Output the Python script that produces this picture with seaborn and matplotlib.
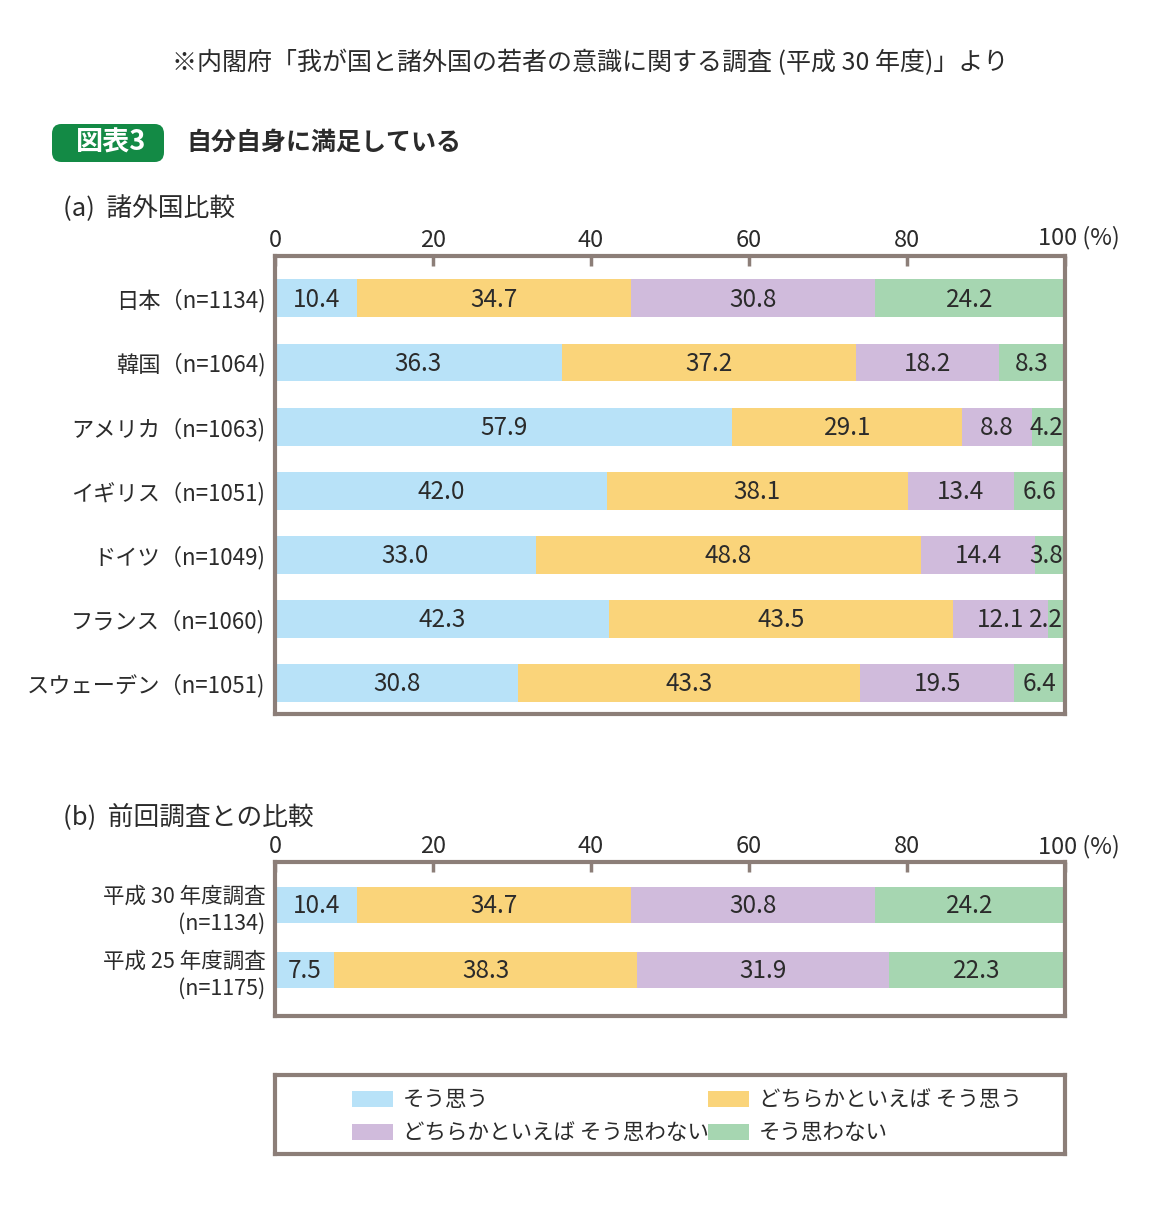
import matplotlib
matplotlib.use("Agg")
import matplotlib.pyplot as plt
from matplotlib.patches import FancyBboxPatch, Patch
import seaborn as sns
import pandas as pd
import numpy as np

# ---- data ----
series_names = ["そう思う", "どちらかといえば そう思う", "どちらかといえば そう思わない", "そう思わない"]
colors = ["#b8e2f8", "#fad47a", "#d0bbdc", "#a6d6b1"]

countries = ["日本（n=1134)", "韓国（n=1064)", "アメリカ（n=1063)", "イギリス（n=1051)",
             "ドイツ（n=1049)", "フランス（n=1060)", "スウェーデン（n=1051)"]
a_agree = [10.4, 36.3, 57.9, 42.0, 33.0, 42.3, 30.8]
a_some_agree = [34.7, 37.2, 29.1, 38.1, 48.8, 43.5, 43.3]
a_some_disagree = [30.8, 18.2, 8.8, 13.4, 14.4, 12.1, 19.5]
a_disagree = [24.2, 8.3, 4.2, 6.6, 3.8, 2.2, 6.4]

surveys = ["平成 30 年度調査\n(n=1134)", "平成 25 年度調査\n(n=1175)"]
b_agree = [10.4, 7.5]
b_some_agree = [34.7, 38.3]
b_some_disagree = [30.8, 31.9]
b_disagree = [24.2, 22.3]

ticks = [0, 20, 40, 60, 80, 100]
tick_labels = ["0", "20", "40", "60", "80", "100"]

sns.set_theme(style="white")
plt.rcParams['font.family'] = ['Noto Sans CJK JP', 'DejaVu Sans']
TXT = "#2b2b2b"
FRAME = "#8c7e78"

W, H = 1159, 1214
fig = plt.figure(figsize=(W / 100, H / 100), dpi=100)


def ax_rect(left, right, top, bottom):
    return [left / W, 1 - bottom / H, (right - left) / W, (bottom - top) / H]


def draw_panel(ax, cats, cols, ylim, label_fs, bar_w):
    df = pd.DataFrame({"cat": cats})
    vals = np.array(cols)
    cum = np.cumsum(vals, axis=0)
    for i in range(len(cols) - 1, -1, -1):
        df["v"] = np.minimum(cum[i], 100)
        sns.barplot(data=df, x="v", y="cat", orient="h", color=colors[i],
                    saturation=1, width=bar_w, linewidth=0, ax=ax, errorbar=None)
    for i in range(len(cols)):
        starts = cum[i] - vals[i]
        for j, v in enumerate(vals[i]):
            if v < 5 and i == len(cols) - 1:
                ax.text(99.8, j + 0.02, f"{v:.1f}", ha="right", va="center",
                        fontsize=17.5, color=TXT)
            else:
                ax.text(starts[j] + v / 2, j + 0.02, f"{v:.1f}", ha="center", va="center",
                        fontsize=17.5, color=TXT)
    ax.set_xlim(0, 100)
    ax.set_ylim(*ylim)
    ax.set_xlabel("")
    ax.set_ylabel("")
    ax.xaxis.tick_top()
    ax.set_xticks(ticks)
    ax.set_xticklabels(tick_labels[:-1] + [""], fontsize=17, color=TXT)
    ax.tick_params(axis="x", direction="in", length=7, width=2.5, color=FRAME, pad=3, top=True, bottom=False)
    ax.tick_params(axis="y", length=0, pad=7)
    for lab in ax.get_yticklabels():
        lab.set_fontsize(label_fs)
        lab.set_color(TXT)
        lab.set_horizontalalignment("right")
        lab.set_multialignment("right")
    for s in ax.spines.values():
        s.set_visible(True)
        s.set_color(FRAME)
        s.set_linewidth(3)
    ax.set_facecolor("white")


ax1 = fig.add_axes(ax_rect(275, 1065, 256, 714))
draw_panel(ax1, countries, [a_agree, a_some_agree, a_some_disagree, a_disagree],
           (6.48, -0.66), 16, 0.59)

ax2 = fig.add_axes(ax_rect(275, 1065, 862, 1016))
draw_panel(ax2, surveys, [b_agree, b_some_agree, b_some_disagree, b_disagree],
           (1.71, -0.66), 15.5, 0.56)
for lab in ax2.get_yticklabels():
    lab.set_linespacing(1.3)

# "100 (%)" labels
for y in (238, 847):
    fig.text(1038 / W, 1 - y / H, tick_labels[-1] + " (%)", ha="left", va="center",
             fontsize=17, color=TXT)

# header texts
fig.text(590 / W, 1 - 63 / H, "※内閣府「我が国と諸外国の若者の意識に関する調査 (平成 30 年度)」より",
         ha="center", va="center", fontsize=18, color=TXT)
box = FancyBboxPatch((52 / W, 1 - 162 / H), 112 / W, 38 / H,
                     boxstyle="round,pad=0,rounding_size=0.008",
                     transform=fig.transFigure, facecolor="#138a45", edgecolor="none")
fig.patches.append(box)
fig.text(111 / W, 1 - 143 / H, "図表3", ha="center", va="center", fontsize=19.5,
         fontweight="bold", color="white")
fig.text(186 / W, 1 - 143 / H, "自分自身に満足している", ha="left", va="center",
         fontsize=18, fontweight="bold", color=TXT)
fig.text(63 / W, 1 - 209 / H, "(a)  諸外国比較", ha="left", va="center", fontsize=18.5, color=TXT)
fig.text(63 / W, 1 - 817 / H, "(b)  前回調査との比較", ha="left", va="center", fontsize=18.5, color=TXT)

# legend box
ax3 = fig.add_axes(ax_rect(275, 1065, 1075, 1154))
ax3.set_xticks([])
ax3.set_yticks([])
for s in ax3.spines.values():
    s.set_visible(True)
    s.set_color(FRAME)
    s.set_linewidth(3)
order = [0, 2, 1, 3]
handles = [Patch(facecolor=colors[i], edgecolor="none", label=series_names[i]) for i in order]
ax3.legend(handles=handles, ncol=2, loc="center left", bbox_to_anchor=((352 - 275) / 790, 0.47),
           frameon=False, fontsize=15.5, handlelength=1.9, handleheight=0.8,
           handletextpad=0.45, columnspacing=0.0, labelspacing=0.5, borderpad=0,
           borderaxespad=0, labelcolor=TXT)

fig.savefig("out.png", dpi=100, facecolor="white")
